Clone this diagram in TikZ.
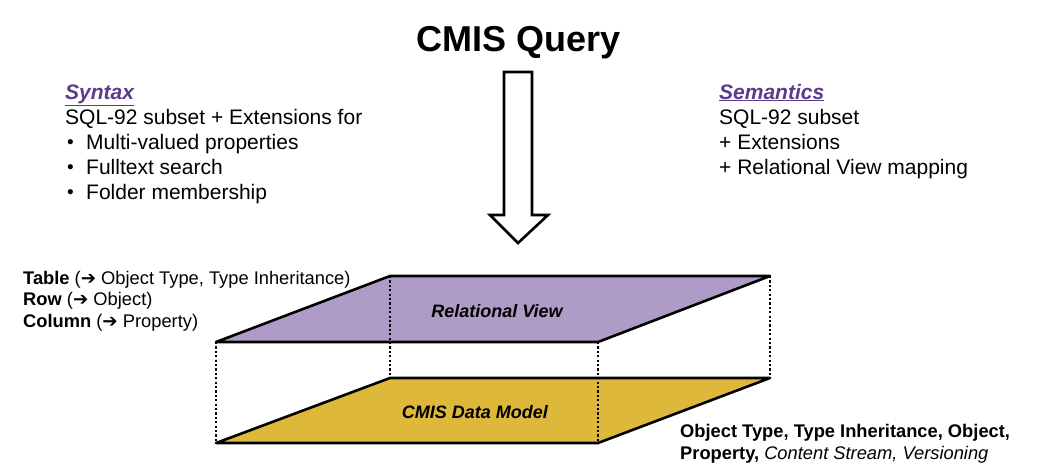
\documentclass[tikz,border=0pt]{standalone}
\usepackage{fontspec}
\setmainfont{Liberation Sans}
\newfontfamily\dejavu{DejaVu Sans}
\definecolor{purp}{HTML}{AE9CC6}
\definecolor{gold}{HTML}{DDB83A}
\definecolor{hdr}{HTML}{5B3B8C}
\newcommand{\rarr}{{\dejavu\bfseries\char"2794}}
\begin{document}
\begin{tikzpicture}[x=1pt,y=-1pt,
  edge/.style={line width=2.6pt,line join=round,line cap=round},
  dotline/.style={line width=2.2pt,dash pattern=on 2.2pt off 2.2pt},
  big/.style={anchor=base,font=\fontsize{36}{40}\selectfont\bfseries},
  med/.style={anchor=base west,inner sep=0pt,font=\fontsize{21}{25}\selectfont},
  bul/.style={anchor=base west,inner sep=0pt,font=\fontsize{19}{22}\selectfont},
  sml/.style={anchor=base west,inner sep=0pt,font=\fontsize{18.3}{21}\selectfont},
  plane/.style={anchor=base,inner sep=0pt,font=\fontsize{18}{21}\selectfont\bfseries\itshape}]
\useasboundingbox (0,0) rectangle (1038,475);
% title
\node[big] (title) at (519,51) {CMIS Query};
% arrow
\draw[edge,fill=white,line join=miter] (504,72) -- (532,72) -- (532,215) -- (548,215) -- (518,243) -- (490,215) -- (504,215) -- cycle;
% syntax
\node[med,text=hdr] (syn) at (65,99) {\bfseries\itshape\underline{Syntax}};
\node[med] (syn1) at (65,124) {SQL-92 subset + Extensions for};
\node[bul] (b1) at (67,148.5) {•};
\node[med] (syn2) at (86,149) {Multi-valued properties};
\node[bul] (b2) at (67,173.5) {•};
\node[med] (syn3) at (86,174) {Fulltext search};
\node[bul] (b3) at (67,198.5) {•};
\node[med] (syn4) at (86,199) {Folder membership};
% semantics
\node[med,text=hdr] (sem) at (719,99) {\bfseries\itshape\underline{Semantics}};
\node[med] (sem1) at (719,124) {SQL-92 subset};
\node[med] (sem2) at (719,149) {+ Extensions};
\node[med] (sem3) at (719,174) {+ Relational View mapping};
% planes
\fill[gold] (390,378) -- (770,378) -- (598,443) -- (216,443) -- cycle;
\fill[purp] (390,276) -- (770,276) -- (598,342) -- (216,342) -- cycle;
\draw[dotline] (216,342) -- (216,443);
\draw[dotline] (390,276) -- (390,378);
\draw[dotline] (598,342) -- (598,443);
\draw[dotline] (770,276) -- (770,378);
\draw[edge] (390,378) -- (770,378) -- (598,443) -- (216,443) -- cycle;
\draw[edge] (390,276) -- (770,276) -- (598,342) -- (216,342) -- cycle;
\node[plane] (rv) at (497,317) {Relational View};
\node[plane] (dm) at (475,418) {CMIS Data Model};
% left labels
\node[sml] (l1) at (23,284) {\textbf{Table} (\rarr\ Object Type, Type Inheritance)};
\node[sml] (l2) at (23,305) {\textbf{Row} (\rarr\ Object)};
\node[sml] (l3) at (23,327) {\textbf{Column} (\rarr\ Property)};
% right labels
\node[sml] (r1) at (680,437) {\textbf{Object Type, Type Inheritance, Object,}};
\node[sml] (r2) at (680,459) {\textbf{Property,} \textit{Content Stream, Versioning}};
\end{tikzpicture}
\end{document}
